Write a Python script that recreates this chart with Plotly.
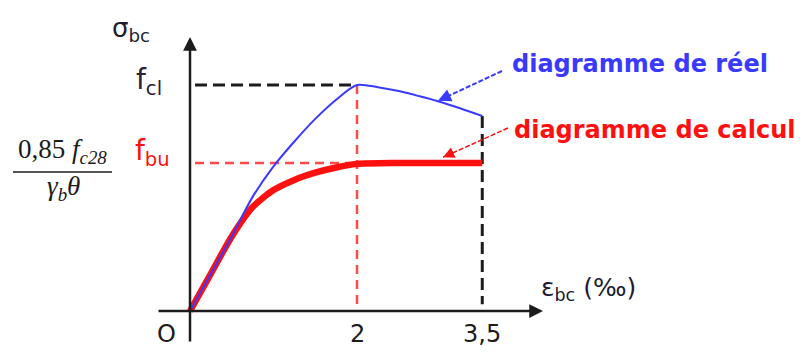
import plotly.graph_objects as go

# ---- data (sigma normalised so that f_cj = 1) ----
eps_reel = [0, 0.25, 0.5, 0.75, 1.0, 1.25, 1.5, 1.75, 2.0, 2.25, 2.5, 2.75, 3.0, 3.25, 3.5]
sig_reel = [0, 0.165, 0.33, 0.505, 0.64, 0.75, 0.85, 0.935, 1.0, 0.99, 0.973, 0.95, 0.925, 0.895, 0.863]

eps_calc = [0, 0.25, 0.5, 0.75, 1.0, 1.25, 1.5, 1.75, 2.0, 2.5, 3.5]
sig_calc = [0, 0.165, 0.33, 0.46, 0.535, 0.58, 0.612, 0.635, 0.651, 0.655, 0.655]

eps_peak = 2.0
eps_ult = 3.5
f_cl = 1.0
f_bu = 0.655

tick_vals = [0, 2, 3.5]
tick_text = ["O", "2", "3,5"]

# ---- layout geometry (page pixels; the page body has an 8px margin) ----
PAGE_W, PAGE_H = 807, 354
OFF = 8
W, H = PAGE_W - OFF, PAGE_H - OFF
X0PX, Y0PX = 190, 311      # origin pixel on the page
SX, SY = 83.5, 226.0       # px per unit

xr = [(OFF - X0PX) / SX, (PAGE_W - X0PX) / SX]
yr = [-(PAGE_H - Y0PX) / SY, (Y0PX - OFF) / SY]


def dx(px):
    return (px - X0PX) / SX


def dy(py):
    return (Y0PX - py) / SY


BLUE = "#3a3aff"
RED = "#ff1010"
RED_D = "#ff4a4a"
BLACK = "#1c1c1c"
WIDE = "DejaVu Sans, sans-serif"
SERIF = "Liberation Serif, Times New Roman, serif"

fig = go.Figure()

# dashed guide lines
fig.add_trace(go.Scatter(x=[0.06, eps_peak], y=[f_cl, f_cl], mode="lines",
                         line=dict(color=BLACK, width=3, dash="12px,6px")))
fig.add_trace(go.Scatter(x=[eps_ult, eps_ult], y=[sig_reel[-1], 0.03], mode="lines",
                         line=dict(color=BLACK, width=3, dash="12px,6px")))
fig.add_trace(go.Scatter(x=[0.06, eps_peak], y=[f_bu, f_bu], mode="lines",
                         line=dict(color=RED_D, width=2.5, dash="9px,6px")))
fig.add_trace(go.Scatter(x=[eps_peak, eps_peak], y=[f_cl, 0], mode="lines",
                         line=dict(color=RED_D, width=2.5, dash="9px,6px")))

# curves
fig.add_trace(go.Scatter(x=eps_calc, y=sig_calc, mode="lines",
                         line=dict(color=RED, width=6.5, shape="spline", smoothing=0.7)))
fig.add_trace(go.Scatter(x=eps_reel, y=sig_reel, mode="lines",
                         line=dict(color=BLUE, width=2, shape="spline", smoothing=0.8)))

# leader lines (dashed) from the labels to the curves
lead_blue = dict(tip=(2.97, 0.93), start=(dx(502), dy(71)))
lead_red = dict(tip=(3.03, 0.68), start=(dx(508), dy(128)))
fig.add_trace(go.Scatter(x=[lead_blue["start"][0], lead_blue["tip"][0]],
                         y=[lead_blue["start"][1], lead_blue["tip"][1]], mode="lines",
                         line=dict(color=BLUE, width=2, dash="5px,2px")))
fig.add_trace(go.Scatter(x=[lead_red["start"][0], lead_red["tip"][0]],
                         y=[lead_red["start"][1], lead_red["tip"][1]], mode="lines",
                         line=dict(color=RED, width=1.5, dash="5px,2px")))

ann = []
# axes with arrows
ann.append(dict(x=dx(543), y=0, ax=dx(157), ay=0, xref="x", yref="y", axref="x", ayref="y",
                showarrow=True, arrowhead=2, arrowsize=1.1, arrowwidth=2.5, arrowcolor=BLACK, text=""))
ann.append(dict(x=0, y=dy(37), ax=0, ay=dy(343), xref="x", yref="y", axref="x", ayref="y",
                showarrow=True, arrowhead=2, arrowsize=1.1, arrowwidth=2.5, arrowcolor=BLACK, text=""))

# tick labels
for v, t in zip(tick_vals, tick_text):
    ann.append(dict(x=v, y=0, xref="x", yref="y", text=t, showarrow=False,
                    xshift=(-24 if t == "O" else 0), yshift=-23,
                    font=dict(family=WIDE, size=24, color=BLACK)))

# axis titles
ann.append(dict(x=dx(110), y=dy(29), xref="x", yref="y", xanchor="left", yanchor="middle",
                text="σ<sub>bc</sub>", showarrow=False,
                font=dict(family=WIDE, size=26, color="#1c1c30")))
ann.append(dict(x=dx(539), y=dy(289), xref="x", yref="y", xanchor="left", yanchor="middle",
                text="ε<sub>bc</sub> (‰)", showarrow=False,
                font=dict(family=WIDE, size=25, color="#1c1c30")))

# y labels
ann.append(dict(x=0, y=f_cl, xref="x", yref="y", xanchor="right", yanchor="middle",
                xshift=-26, yshift=4, text="f<sub>cl</sub>", showarrow=False,
                font=dict(family=WIDE, size=28, color="#2b2035")))
ann.append(dict(x=0, y=f_bu, xref="x", yref="y", xanchor="right", yanchor="middle",
                xshift=-18, yshift=10, text="f<sub>bu</sub>", showarrow=False,
                font=dict(family=WIDE, size=28, color=RED)))

# fraction
ann.append(dict(x=dx(62), y=dy(151), xref="x", yref="y", xanchor="center", yanchor="middle",
                text="0,85 <i>f</i><sub><i>c28</i></sub>", showarrow=False,
                font=dict(family=SERIF, size=27, color=BLACK)))
ann.append(dict(x=dx(63), y=dy(188), xref="x", yref="y", xanchor="center", yanchor="middle",
                text="<i>γ</i><sub><i>b</i></sub><i>θ</i>", showarrow=False,
                font=dict(family=SERIF, size=27, color=BLACK)))

# curve labels
ann.append(dict(x=dx(510), y=dy(64), xref="x", yref="y", xanchor="left", yanchor="middle",
                text="diagramme de réel", showarrow=False,
                font=dict(family=WIDE, size=24, color=BLUE, weight="bold")))
ann.append(dict(x=dx(512), y=dy(130), xref="x", yref="y", xanchor="left", yanchor="middle",
                text="diagramme de calcul", showarrow=False,
                font=dict(family=WIDE, size=24, color=RED, weight="bold")))

# arrowheads of the leaders
ann.append(dict(x=lead_blue["tip"][0], y=lead_blue["tip"][1], ax=11, ay=-5, xref="x", yref="y",
                showarrow=True, arrowhead=2, arrowsize=1.3, arrowwidth=2, arrowcolor=BLUE, text=""))
ann.append(dict(x=lead_red["tip"][0], y=lead_red["tip"][1], ax=11, ay=-5, xref="x", yref="y",
                showarrow=True, arrowhead=2, arrowsize=1.5, arrowwidth=1.5, arrowcolor=RED, text=""))

shapes = [dict(type="line", xref="x", yref="y",
               x0=dx(13), x1=dx(112), y0=dy(172), y1=dy(172),
               line=dict(color=BLACK, width=1.5))]

fig.update_layout(
    width=W, height=H, margin=dict(l=0, r=0, t=0, b=0),
    paper_bgcolor="white", plot_bgcolor="white", showlegend=False,
    xaxis=dict(range=xr, visible=False, fixedrange=True),
    yaxis=dict(range=yr, visible=False, fixedrange=True),
    annotations=ann, shapes=shapes,
)

fig.write_html("out.html")
